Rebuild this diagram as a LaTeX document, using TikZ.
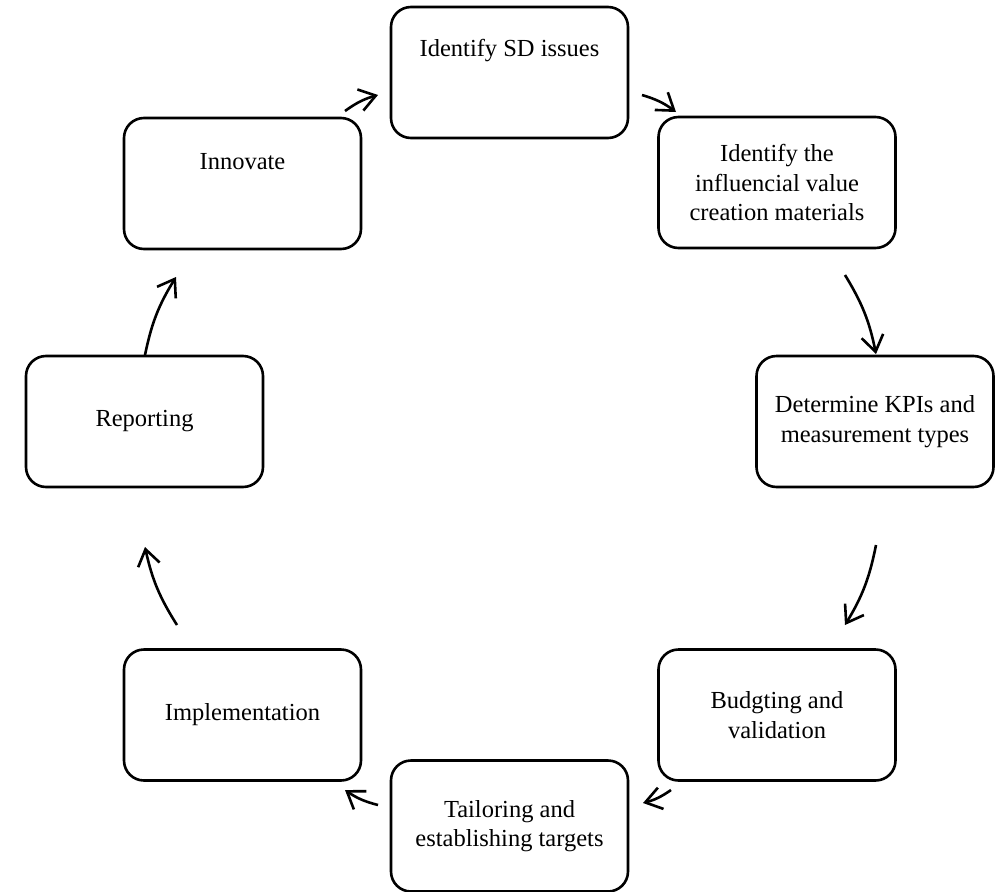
\documentclass[tikz,border=0pt]{standalone}
\usepackage{fontspec}
\setmainfont{Liberation Serif}
\usetikzlibrary{arrows.meta}
\begin{document}
\begin{tikzpicture}[x=1pt,y=-1pt,
  stage/.style={draw, line width=2.6pt, rounded corners=20pt,
    minimum width=237pt, minimum height=131pt, inner sep=0pt,
    align=center, font=\fontsize{24.5}{29.5}\selectfont},
  stagetext/.style={inner sep=0pt, align=center, font=\fontsize{24.5}{29.5}\selectfont},
  flow/.style={line width=2.6pt, -{Straight Barb[length=16pt,width=22pt]}, bend left=10}
]
\useasboundingbox (0,0) rectangle (997,892);

% process stages, clockwise from the top
\node[stage] (sd) at (509.5,72.5) {};
\node[stagetext] (sdt) at ([yshift=22pt]sd.center) {Identify SD issues};
\node[stage] (mat) at (777,182.5) {Identify the\\influencial value\\creation materials};
\node[stage] (kpi) at (875,421.5) {Determine KPIs and\\measurement types};
\node[stage] (bud) at (777,715) {Budgting and\\validation};
\node[stage] (tai) at (509.5,826) {Tailoring and\\establishing targets};
\node[stage] (imp) at (242.5,715) {Implementation};
\node[stage] (rep) at (144.5,421.5) {Reporting};
\node[stage] (inn) at (242.5,183.5) {};
\node[stagetext] (innt) at ([yshift=22pt]inn.center) {Innovate};

% arrow end points between the stages
\coordinate (a1s) at (345,111); \coordinate (a1e) at (378,95);
\coordinate (a2s) at (642,95);  \coordinate (a2e) at (676,112);
\coordinate (a3s) at (845,275); \coordinate (a3e) at (876,354);
\coordinate (a4s) at (876,545); \coordinate (a4e) at (845,625);
\coordinate (a5s) at (671,790); \coordinate (a5e) at (643,803);
\coordinate (a6s) at (378,805); \coordinate (a6e) at (345,790);
\coordinate (a7s) at (177,625); \coordinate (a7e) at (145,547);
\coordinate (a8s) at (145,355); \coordinate (a8e) at (176,277);

\draw[flow] (a1s) to (a1e);
\draw[flow] (a2s) to (a2e);
\draw[flow] (a3s) to (a3e);
\draw[flow] (a4s) to (a4e);
\draw[flow] (a5s) to (a5e);
\draw[flow] (a6s) to (a6e);
\draw[flow] (a7s) to (a7e);
\draw[flow] (a8s) to (a8e);
\end{tikzpicture}
\end{document}
